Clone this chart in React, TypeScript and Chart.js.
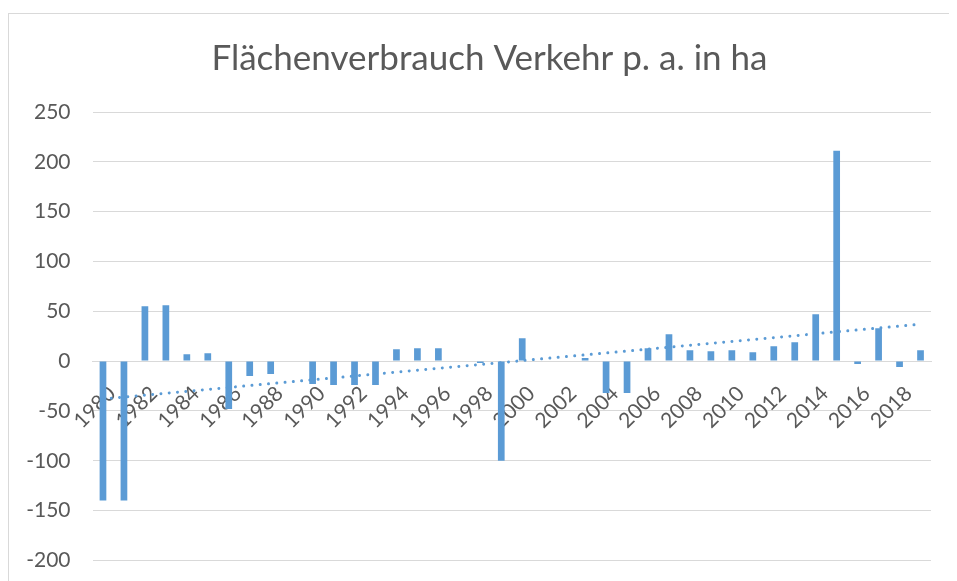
import React, { useEffect, useRef } from "react";
import { Chart, registerables } from "chart.js";

Chart.register(...registerables);

const TITLE = "Flächenverbrauch Verkehr p. a. in ha";

const years: string[] = [
  "1980", "1981", "1982", "1983", "1984", "1985", "1986", "1987", "1988", "1989",
  "1990", "1991", "1992", "1993", "1994", "1995", "1996", "1997", "1998", "1999",
  "2000", "2001", "2002", "2003", "2004", "2005", "2006", "2007", "2008", "2009",
  "2010", "2011", "2012", "2013", "2014", "2015", "2016", "2017", "2018", "2019",
];

const values: number[] = [
  -140, -140, 55, 56, 7, 8, -48, -15, -13, 0,
  -23, -24, -24, -24, 12, 13, 13, 0, -2, -100,
  23, 0, 0, 3, -32, -32, 13, 27, 11, 10,
  11, 9, 15, 19, 47, 211, -3, 33, -6, 11,
];

const yTicks: number[] = [-200, -150, -100, -50, 0, 50, 100, 150, 200, 250];

// linear trendline derived from the bar values (least squares)
function linearTrend(ys: number[]): number[] {
  const n = ys.length;
  const xm = (n - 1) / 2;
  const ym = ys.reduce((a, b) => a + b, 0) / n;
  let sxy = 0;
  let sxx = 0;
  ys.forEach((y, i) => {
    sxy += (i - xm) * (y - ym);
    sxx += (i - xm) * (i - xm);
  });
  const slope = sxy / sxx;
  return ys.map((_, i) => ym + slope * (i - xm));
}

const BAR_COLOR = "#5B9BD5";
const TEXT_COLOR = "#595959";
const GRID_COLOR = "#D9D9D9";
const FONT = "Lato, 'Open Sans', sans-serif";

export default function App() {
  const ref = useRef<HTMLCanvasElement | null>(null);

  useEffect(() => {
    if (!ref.current) return;
    const trend = linearTrend(values);
    const chart = new Chart(ref.current, {
      type: "bar",
      data: {
        labels: years,
        datasets: [
          {
            type: "line",
            label: "Trend",
            data: trend,
            borderColor: BAR_COLOR,
            borderWidth: 3,
            borderDash: [0.01, 8.3],
            borderCapStyle: "round",
            pointRadius: 0,
            fill: false,
            tension: 0,
            order: 0,
          } as any,
          {
            type: "bar",
            label: "Fläche",
            data: values,
            backgroundColor: BAR_COLOR,
            borderWidth: 0,
            barPercentage: 1,
            categoryPercentage: 0.32,
            order: 1,
          },
        ],
      },
      options: {
        responsive: false,
        animation: false,
        devicePixelRatio: 1,
        layout: { padding: { left: 0, right: 0, top: 0, bottom: 7 } },
        plugins: {
          legend: { display: false },
          tooltip: { enabled: false },
          title: {
            display: true,
            text: TITLE,
            color: TEXT_COLOR,
            font: { family: FONT, size: 35, weight: "normal" },
            padding: { top: 23.5, bottom: 32.5 },
          },
        },
        scales: {
          x: {
            type: "category",
            position: { y: 0 } as any,
            offset: true,
            grid: { display: false, drawTicks: false },
            border: { display: true, color: GRID_COLOR, width: 1 },
            afterFit: (s: any) => {
              s.paddingLeft = 0;
              s.paddingRight = 0;
              s.paddingTop = 0;
              s.paddingBottom = 0;
            },
            ticks: {
              autoSkip: false,
              maxRotation: 45,
              minRotation: 45,
              padding: 20,
              labelOffset: 9,
              color: TEXT_COLOR,
              font: { family: FONT, size: 21 },
              callback: (_v: any, i: number) => (i % 2 === 0 ? years[i] : ""),
            },
          },
          y: {
            min: -200,
            max: 250,
            afterBuildTicks: (s: any) => {
              s.ticks = yTicks.map((v) => ({ value: v }));
            },
            afterFit: (s: any) => {
              s.width = 83.5;
            },
            grid: { color: GRID_COLOR, lineWidth: 1, drawTicks: false },
            border: { display: false },
            ticks: {
              padding: 22,
              color: TEXT_COLOR,
              font: { family: FONT, size: 21 },
            },
          },
          yRight: {
            type: "linear",
            position: "right",
            display: true,
            min: -200,
            max: 250,
            grid: { display: false, drawTicks: false },
            border: { display: false },
            ticks: { display: false },
            afterFit: (s: any) => {
              s.width = 39;
            },
          },
        },
      },
    });
    return () => chart.destroy();
  }, []);

  return (
    <div style={{ position: "relative", width: 949, height: 573, overflow: "hidden" }}>
      <div
        style={{
          position: "absolute",
          left: 0,
          top: 5,
          width: 962,
          height: 600,
          borderLeft: `1px solid ${GRID_COLOR}`,
          borderTop: `1px solid ${GRID_COLOR}`,
          background: "#fff",
        }}
      >
        <canvas ref={ref} width={961} height={581} style={{ display: "block" }} />
      </div>
    </div>
  );
}
